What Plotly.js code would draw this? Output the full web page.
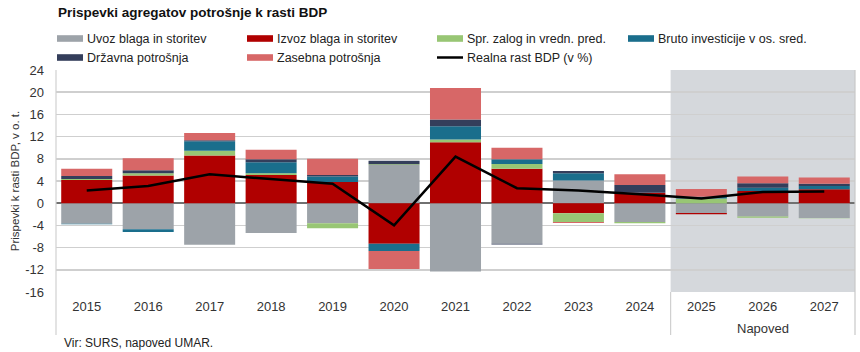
<!DOCTYPE html>
<html>
<head>
<meta charset="utf-8">
<script src="https://cdn.plot.ly/plotly-3.0.1.min.js"></script>
<style>
html,body{margin:0;padding:0;background:#fff;}
#chart{width:860px;height:352px;}
</style>
</head>
<body>
<div id="chart"></div>
<script>
// Data
const years = ["2015","2016","2017","2018","2019","2020","2021","2022","2023","2024","2025","2026","2027"];
const uvoz      = [-3.7, -4.7, -7.5, -5.35, -3.6,  6.9, -12.3, -7.3,  4.1, -3.4, -1.75, -2.4, -2.65];
const izvoz     = [ 4.2,  5.0,  8.6,  5.1,  3.8,  -7.3,  11.0,  6.2, -1.8,  1.9, -0.25,  2.2,  2.5];
const zaloge    = [ 0.15, 0.4,  0.85, 0.3, -0.9,   0.1,   0.5,  0.85,-1.6, -0.2,  0.85, -0.2, -0.05];
const investic  = [-0.1, -0.5,  1.7,  2.0,  1.0,  -1.3,   2.35, 0.85, 1.3,  0.0,  0.3,   0.6,  0.6];
const drzavna   = [ 0.55, 0.55, 0.2,  0.5,  0.3,   0.65,  1.25,-0.15, 0.4,  1.4,  0.0,   0.8,  0.4];
const zasebna   = [ 1.3,  2.15, 1.3,  1.75, 2.9,  -3.25,  5.65, 2.1, -0.15, 1.9,  1.4,   1.2,  1.15];
const rastBDP   = [ 2.3,  3.1,  5.2,  4.4,  3.5,  -4.0,   8.4,  2.7,  2.3,  1.6,  0.85,  2.0,  2.1];

const names = ["Uvoz blaga in storitev","Izvoz blaga in storitev","Spr. zalog in vredn. pred.",
               "Bruto investicije v os. sred.","Državna potrošnja","Zasebna potrošnja","Realna rast BDP (v %)"];
const colors = ["#9DA3A9","#B00000","#98C674","#1A6E8C","#343E5B","#D76767","#000000"];
const yTicks = [-16,-12,-8,-4,0,4,8,12,16,20,24];
const forecastLabel = "Napoved";
const sourceText = "Vir: SURS, napoved UMAR.";
const titleText = "Prispevki agregatov potrošnje k rasti BDP";
const yTitle = "Prispevki k rasti BDP, v o. t.";

// Layout geometry (pixels)
const W = 860, H = 352;
const M = {l: 56, r: 5, t: 70, b: 60};
const PW = W - M.l - M.r, PH = H - M.t - M.b;
const px = x => (x - M.l) / PW;          // pixel x -> paper x
const py = y => (H - M.b - y) / PH;      // pixel y -> paper y

const series = [uvoz, izvoz, zaloge, investic, drzavna, zasebna];
const traces = series.map((s, i) => ({
  type: "bar", x: years, y: s, name: names[i],
  marker: {color: colors[i], line: {width: 0}},
  showlegend: false
}));
traces.push({
  type: "scatter", mode: "lines", x: years, y: rastBDP, name: names[6],
  line: {color: colors[6], width: 2.5}, showlegend: false
});

const font = "'Liberation Sans', Arial, sans-serif";

// Custom legend (4 columns x 2 rows)
const legCols = [57, 247, 437, 628];
const legRows = [38.5, 57.5];
const shapes = [
  {type: "rect", xref: "x", yref: "paper", x0: 9.5, x1: 12.5, y0: 0, y1: 1,
   fillcolor: "#D5D8DC", line: {width: 0}, layer: "below"},
  {type: "line", xref: "paper", yref: "paper", x0: 0, x1: 0, y0: py(335), y1: 1,
   line: {color: "#D0D0D0", width: 1.2}},
  {type: "line", xref: "x", yref: "paper", x0: 9.5, x1: 9.5, y0: py(335), y1: 0,
   line: {color: "#D0D0D0", width: 1.2}},
  {type: "line", xref: "paper", yref: "paper", x0: 1, x1: 1, y0: py(335), y1: 1,
   line: {color: "#C8C8C8", width: 1.2}}
];
const annotations = [
  {text: forecastLabel, xref: "x", yref: "paper", x: 11, y: py(328), yanchor: "middle",
   showarrow: false, font: {family: font, size: 13, color: "#333"}},
  {text: sourceText, xref: "paper", yref: "paper", x: px(62), xanchor: "left",
   y: py(343), yanchor: "middle", showarrow: false,
   font: {family: font, size: 12, color: "#222"}},
  {text: "<b>" + titleText + "</b>", xref: "paper", yref: "paper", x: px(56), xanchor: "left",
   y: py(12), yanchor: "middle", showarrow: false,
   font: {family: font, size: 13.5, color: "#111"}}
];
names.forEach((n, i) => {
  const c = legCols[i % 4], r = legRows[Math.floor(i / 4)];
  if (i === 6) {
    shapes.push({type: "line", xref: "paper", yref: "paper", x0: px(c), x1: px(c + 26),
                 y0: py(r), y1: py(r), line: {color: colors[i], width: 2.5}});
  } else {
    shapes.push({type: "rect", xref: "paper", yref: "paper", x0: px(c), x1: px(c + 26),
                 y0: py(r - 3.3), y1: py(r + 3.3), fillcolor: colors[i], line: {width: 0}});
  }
  annotations.push({text: n, xref: "paper", yref: "paper", x: px(c + 28), xanchor: "left",
                    y: py(r), yanchor: "middle", showarrow: false,
                    font: {family: font, size: 12.5, color: "#222"}});
});

const layout = {
  width: W, height: H, margin: M,
  paper_bgcolor: "#ffffff", plot_bgcolor: "#ffffff",
  barmode: "relative", bargap: 0.17,
  showlegend: false,
  xaxis: {type: "category", range: [-0.5, 12.5], showgrid: false, zeroline: false,
          ticks: "", showline: false, ticklabelstandoff: 5,
          tickfont: {family: font, size: 13, color: "#333"}},
  yaxis: {range: [-16, 24], tickvals: yTicks, ticktext: yTicks.map(String),
          showgrid: true, gridcolor: "#CFCFCF", gridwidth: 1.5,
          zeroline: true, zerolinecolor: "#707070", zerolinewidth: 1.5,
          ticks: "", showline: false, ticklabelstandoff: 11,
          tickfont: {family: font, size: 13, color: "#333"},
          title: {text: yTitle, font: {family: font, size: 11.5, color: "#333"}, standoff: 3}},
  shapes: shapes,
  annotations: annotations
};

Plotly.newPlot("chart", traces, layout, {displayModeBar: false, staticPlot: true});
</script>
</body>
</html>
